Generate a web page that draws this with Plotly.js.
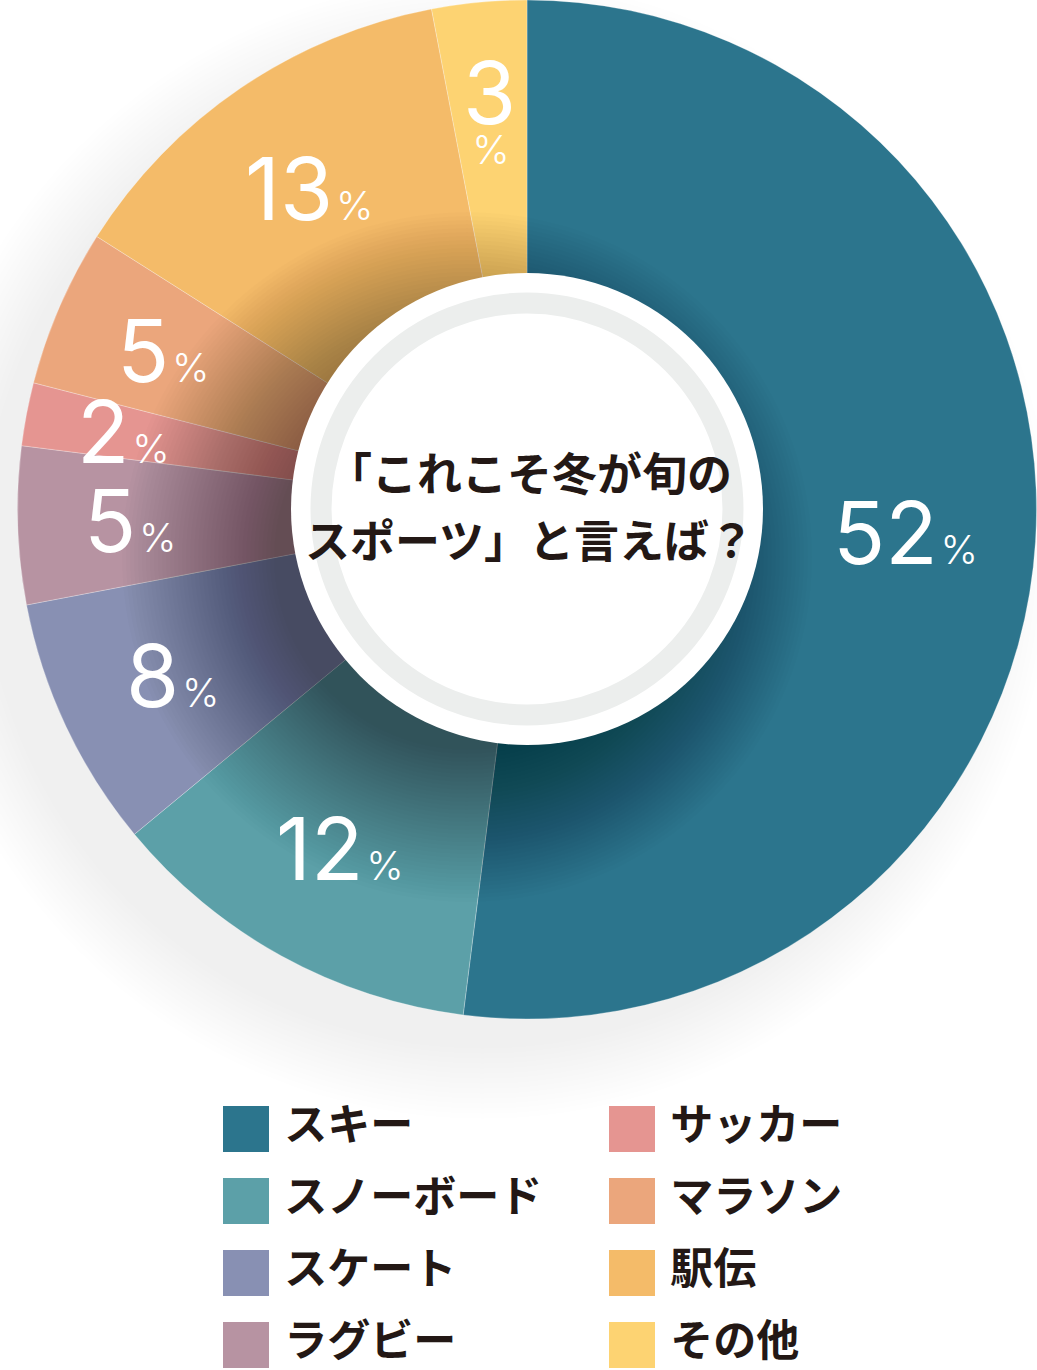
<!DOCTYPE html>
<html>
<head>
<meta charset="utf-8">
<script src="https://cdn.plot.ly/plotly-3.0.1.min.js"></script>
<style>
html,body{margin:0;padding:0;background:#fff;}
#chart{width:1037px;height:1370px;}
</style>
</head>
<body>
<div id="chart"></div>
<script>
// ---- data ----
const categories = ['スキー','スノーボード','スケート','ラグビー','サッカー','マラソン','駅伝','その他'];
const values = [52, 12, 8, 5, 2, 5, 13, 3];
const colors = ['#2c758d','#5ca0a8','#8890b3','#b793a2','#e59591','#eba67c','#f4bb69','#fdd372'];
const wrapLabels = ['その他'];
const centerLines = ['「これこそ冬が旬の', 'スポーツ」と言えば？'];

// ---- geometry ----
const W = 1037, H = 1370;
const cx = 527, cy = 509, R = 510;
const holeR = 236;
const px = x => x / W;
const py = y => 1 - y / H;

const numFont = 'Inter, "Noto Sans", sans-serif';
const jpFont = '"Noto Sans CJK JP", sans-serif';

const pie = {
  type: 'pie',
  labels: categories,
  values: values,
  sort: false,
  direction: 'clockwise',
  rotation: 0,
  hole: 0.44,
  textinfo: 'none',
  hoverinfo: 'label+percent',
  showlegend: false,
  marker: {colors: colors, line: {color: 'rgba(255,255,255,0.45)', width: 0.6}},
  domain: {x: [px(cx - R), px(cx + R)], y: [py(cy + R), py(cy - R)]}
};

// legend drawn as a grid of square markers in a hidden cartesian subplot
const rows = 4;
const legend = {
  type: 'scatter',
  mode: 'markers+text',
  x: categories.map((c, i) => Math.floor(i / rows)),
  y: categories.map((c, i) => i % rows),
  text: categories.map(c => '\u2009' + c),
  textposition: 'middle right',
  textfont: {family: jpFont, size: 43, color: '#231815', weight: 700},
  marker: {symbol: 'square', size: 46, color: colors, line: {width: 0}},
  hoverinfo: 'skip',
  showlegend: false,
  cliponaxis: false
};

// slice labels: at the middle angle of each slice, narrow slices pushed outward
const total = values.reduce((a, b) => a + b, 0);
const annotations = [];
let cum = 0;
values.forEach((v, i) => {
  const mid = (cum + v / 2) / total * 2 * Math.PI;
  cum += v;
  const r = 372 + 55 / Math.sqrt(v);
  const x = cx + r * Math.sin(mid);
  const y = cy - r * Math.cos(mid);
  const big = '<span style="font-size:86px;font-weight:400">' + v + '</span>';
  const pct = '<span style="font-size:40px">%</span>';
  const txt = wrapLabels.includes(categories[i]) ? big + '<br>\u200A' + pct : big + '\u200A' + pct;
  annotations.push({
    xref: 'paper', yref: 'paper', x: px(x), y: py(y),
    xanchor: 'center', yanchor: 'middle', showarrow: false,
    text: txt, font: {family: numFont, size: 31, color: '#ffffff', weight: 300}
  });
});
centerLines.forEach((t, i) => {
  annotations.push({
    xref: 'paper', yref: 'paper', x: px(cx + 2), y: py(cy - 38 + i * 67),
    xanchor: 'center', yanchor: 'middle', showarrow: false,
    text: t, font: {family: jpFont, size: 45, color: '#231815', weight: 700}
  });
});

// soft outer shadow (lower left) under the pie, center disc with inner shadow and grey ring
const shapes = [];
const circ = (x, y, r, fill, layer, line) => ({
  type: 'circle', xref: 'paper', yref: 'paper', layer: layer,
  x0: px(x - r), x1: px(x + r), y0: py(y + r), y1: py(y - r),
  fillcolor: fill, line: line || {width: 0}
});
for (let r = 570; r >= 500; r -= 5) {
  shapes.push(circ(cx - 45, cy + 40, r, 'rgba(60,45,30,0.0035)', 'below'));
}
for (let r = 345; r >= 190; r -= 4) {
  shapes.push(circ(cx - 60, cy + 48, r, 'rgba(10,15,25,0.012)', 'above'));
}
shapes.push(circ(cx, cy, holeR, '#ffffff', 'above'));
shapes.push(circ(cx, cy, 206, 'rgba(0,0,0,0)', 'above', {color: '#eceeed', width: 21}));

const legendTop = 1069;
const layout = {
  width: W, height: H,
  margin: {l: 0, r: 0, t: 0, b: 0},
  paper_bgcolor: '#ffffff', plot_bgcolor: 'rgba(0,0,0,0)',
  showlegend: false,
  xaxis: {domain: [0, 1], range: [-246 / 386, (W - 246) / 386], visible: false, fixedrange: true},
  yaxis: {domain: [0, py(legendTop)], range: [(H - 1129) / 72, (legendTop - 1129) / 72], visible: false, fixedrange: true},
  shapes: shapes,
  annotations: annotations
};

Plotly.newPlot('chart', [pie, legend], layout, {displayModeBar: false, responsive: false});
</script>
</body>
</html>
